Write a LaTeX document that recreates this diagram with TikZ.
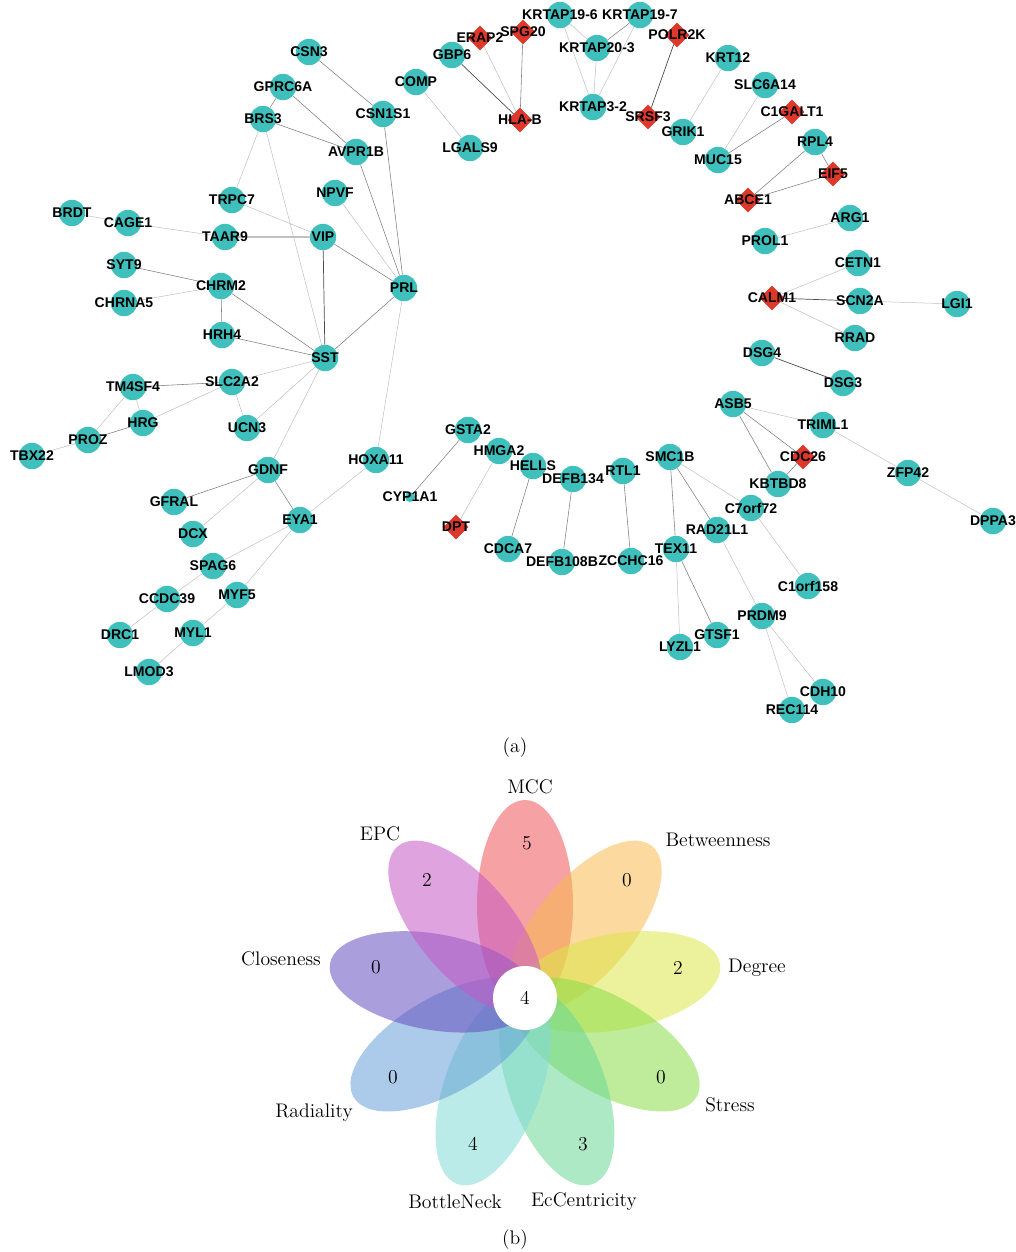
\documentclass[tikz,border=0pt]{standalone}
\usepackage{fontspec}
\newfontfamily\genefont{Liberation Sans}
\usepackage{tikz}
\usetikzlibrary{shapes.geometric,backgrounds}
\definecolor{geneteal}{RGB}{64,192,188}
\definecolor{seedred}{RGB}{222,56,43}
\definecolor{mccred}{RGB}{239,83,87}
\definecolor{betweenorange}{RGB}{249,185,81}
\definecolor{degreeyellow}{RGB}{221,231,73}
\definecolor{stressgreen}{RGB}{137,221,73}
\definecolor{eccgreen}{RGB}{107,215,151}
\definecolor{bottlecyan}{RGB}{131,219,213}
\definecolor{radialblue}{RGB}{103,159,215}
\definecolor{closepurple}{RGB}{101,79,191}
\definecolor{epcmagenta}{RGB}{197,89,197}
\tikzset{
  gene/.style={circle,fill=geneteal,inner sep=0pt,minimum size=6.6mm},
  seed/.style={diamond,fill=seedred,inner sep=0pt,minimum size=6.2mm},
  every label/.style={font=\genefont\bfseries\fontsize{10}{10}\selectfont,inner sep=0pt,text=black},
  linkstrong/.style={draw=black!70,line width=0.5pt},
  linkmid/.style={draw=black!50,line width=0.4pt},
  linkweak/.style={draw=black!25,line width=0.35pt},
  petal/.style={fill=#1,fill opacity=0.55},
  flowertext/.style={font=\fontsize{14}{16}\selectfont},
}

\begin{document}
\begin{tikzpicture}[x=0.25mm,y=-0.25mm]
    \useasboundingbox (0,0) rectangle (1016,1252);

    % (a) network - left cluster
    \node[gene,label=center:CSN3] (csn3) at (309,52) {};
    \node[gene,label=center:GPRC6A] (gprc6a) at (283,87) {};
    \node[gene,label=center:BRS3] (brs3) at (263,119) {};
    \node[gene,label=center:CSN1S1] (csn1s1) at (383,114) {};
    \node[gene,label=center:AVPR1B] (avpr1b) at (356,152) {};
    \node[gene,label=center:NPVF] (npvf) at (335,193) {};
    \node[gene,label=center:TRPC7] (trpc7) at (232,200) {};
    \node[gene,label=center:BRDT] (brdt) at (72,213) {};
    \node[gene,label=center:CAGE1] (cage1) at (128,223) {};
    \node[gene,label=center:TAAR9] (taar9) at (225,237) {};
    \node[gene,label=center:VIP] (vip) at (323,237) {};
    \node[gene,label=center:SYT9] (syt9) at (124,265) {};
    \node[gene,label=center:CHRM2] (chrm2) at (221,286) {};
    \node[gene,label=center:CHRNA5] (chrna5) at (124,303) {};
    \node[gene,label=center:HRH4] (hrh4) at (222,335) {};
    \node[gene,label=center:PRL] (prl) at (404,288) {};
    \node[gene,label=center:SST] (sst) at (325,358) {};
    \node[gene,label=center:TM4SF4] (tm4sf4) at (133,387) {};
    \node[gene,label=center:SLC2A2] (slc2a2) at (232,382) {};
    \node[gene,label=center:HRG] (hrg) at (143,423) {};
    \node[gene,label=center:PROZ] (proz) at (88,440) {};
    \node[gene,label=center:TBX22] (tbx22) at (32,456) {};
    \node[gene,label=center:UCN3] (ucn3) at (247,428) {};
    \node[gene,label=center:GDNF] (gdnf) at (268,470) {};
    \node[gene,label=center:HOXA11] (hoxa11) at (376,460) {};
    \node[gene,label=center:GFRAL] (gfral) at (174,502) {};
    \node[gene,label=center:DCX] (dcx) at (193,534) {};
    \node[gene,label=center:EYA1] (eya1) at (300,520) {};
    \node[gene,label=center:SPAG6] (spag6) at (213,566) {};
    \node[gene,label=center:CCDC39] (ccdc39) at (167,599) {};
    \node[gene,label=center:MYF5] (myf5) at (237,595) {};
    \node[gene,label=center:DRC1] (drc1) at (120,635) {};
    \node[gene,label=center:MYL1] (myl1) at (193,633) {};
    \node[gene,label=center:LMOD3] (lmod3) at (149,672) {};

    % top arc
    \node[gene,label=center:COMP] (comp) at (416,82) {};
    \node[gene,label=center:LGALS9] (lgals9) at (470,148) {};
    \node[gene,label=center:GBP6] (gbp6) at (452,55) {};
    \node[seed,label=center:ERAP2] (erap2) at (480,38) {};
    \node[seed,label=center:SPG20] (spg20) at (523,32) {};
    \node[seed,label=center:HLA-B] (hlab) at (520,120) {};
    \node[gene,label=center:KRTAP19-6] (krtap196) at (560,15) {};
    \node[gene,label=center:KRTAP19-7] (krtap197) at (640,15) {};
    \node[gene,label=center:KRTAP20-3] (krtap203) at (597,48) {};
    \node[gene,label=center:KRTAP3-2] (krtap32) at (593,107) {};
    \node[seed,label=center:POLR2K] (polr2k) at (677,35) {};
    \node[seed,label=center:SRSF3] (srsf3) at (648,117) {};
    \node[gene,label=center:GRIK1] (grik1) at (683,132) {};
    \node[gene,label=center:KRT12] (krt12) at (728,58) {};
    \node[gene,label=center:SLC6A14] (slc6a14) at (765,85) {};
    \node[seed,label=center:C1GALT1] (c1galt1) at (792,112) {};
    \node[gene,label=center:MUC15] (muc15) at (718,160) {};
    \node[gene,label=center:RPL4] (rpl4) at (815,142) {};
    \node[seed,label=center:EIF5] (eif5) at (833,174) {};
    \node[seed,label=center:ABCE1] (abce1) at (748,200) {};
    \node[gene,label=center:ARG1] (arg1) at (850,218) {};
    \node[gene,label=center:PROL1] (prol1) at (765,241) {};

    % right side
    \node[gene,label=center:CETN1] (cetn1) at (858,263) {};
    \node[seed,label=center:CALM1] (calm1) at (772,298) {};
    \node[gene,label=center:SCN2A] (scn2a) at (860,301) {};
    \node[gene,label=center:LGI1] (lgi1) at (957,304) {};
    \node[gene,label=center:RRAD] (rrad) at (855,338) {};
    \node[gene,label=center:DSG4] (dsg4) at (762,353) {};
    \node[gene,label=center:DSG3] (dsg3) at (843,383) {};
    \node[gene,label=center:ASB5] (asb5) at (733,404) {};
    \node[gene,label=center:TRIML1] (triml1) at (823,425) {};
    \node[seed,label=center:CDC26] (cdc26) at (803,457) {};
    \node[gene,label=center:ZFP42] (zfp42) at (908,473) {};
    \node[gene,label=center:KBTBD8] (kbtbd8) at (778,484) {};
    \node[gene,label=center:DPPA3] (dppa3) at (993,521) {};
    \node[gene,label=center:SMC1B] (smc1b) at (670,457) {};
    \node[gene,label=center:RTL1] (rtl1) at (623,471) {};
    \node[gene,label=center:C7orf72] (c7orf72) at (751,508) {};
    \node[gene,label=center:RAD21L1] (rad21l1) at (717,530) {};
    \node[gene,label=center:TEX11] (tex11) at (676,549) {};
    \node[gene,label=center:ZCCHC16] (zcchc16) at (631,561) {};
    \node[gene,label=center:C1orf158] (c1orf158) at (808,586) {};
    \node[gene,label=center:PRDM9] (prdm9) at (762,616) {};
    \node[gene,label=center:GTSF1] (gtsf1) at (717,635) {};
    \node[gene,label=center:LYZL1] (lyzl1) at (680,647) {};
    \node[gene,label=center:CDH10] (cdh10) at (823,692) {};
    \node[gene,label=center:REC114] (rec114) at (792,710) {};

    % bottom middle
    \node[gene,label=center:GSTA2] (gsta2) at (468,430) {};
    \node[gene,label=center:HMGA2] (hmga2) at (499,451) {};
    \node[gene,label=center:HELLS] (hells) at (533,466) {};
    \node[gene,label=center:DEFB134] (defb134) at (573,479) {};
    \node[gene,minimum size=2.5mm,label=center:CYP1A1] (cyp1a1) at (410,497) {};
    \node[seed,label=center:DPT] (dpt) at (456,527) {};
    \node[gene,label=center:CDCA7] (cdca7) at (508,549) {};
    \node[gene,label=center:DEFB108B] (defb108b) at (562,562) {};

    % interactions
    \begin{scope}[on background layer]
        \draw[linkstrong] (taar9) -- (vip) (vip) -- (sst) (gbp6) -- (hlab) (polr2k) -- (srsf3)
            (calm1) -- (scn2a) (dsg4) -- (dsg3);
        \draw[linkmid] (csn3) -- (csn1s1) (gprc6a) -- (brs3) (gprc6a) -- (avpr1b) (brs3) -- (avpr1b)
            (csn1s1) -- (prl) (avpr1b) -- (prl) (vip) -- (prl) (syt9) -- (chrm2) (chrm2) -- (hrh4)
            (chrm2) -- (sst) (hrh4) -- (sst) (sst) -- (prl) (tm4sf4) -- (slc2a2) (hrg) -- (proz)
            (gdnf) -- (gfral) (gdnf) -- (eya1) (spg20) -- (hlab) (krtap197) -- (krtap203)
            (c1galt1) -- (muc15) (rpl4) -- (eif5) (rpl4) -- (abce1) (eif5) -- (abce1)
            (asb5) -- (cdc26) (asb5) -- (kbtbd8) (cdc26) -- (kbtbd8) (smc1b) -- (tex11)
            (smc1b) -- (rad21l1) (rtl1) -- (zcchc16) (tex11) -- (gtsf1) (gsta2) -- (cyp1a1)
            (hells) -- (cdca7) (defb134) -- (defb108b);
        \draw[linkweak] (brs3) -- (trpc7) (brs3) -- (sst) (npvf) -- (prl) (trpc7) -- (vip)
            (brdt) -- (cage1) (cage1) -- (taar9) (chrna5) -- (chrm2) (sst) -- (slc2a2) (sst) -- (ucn3)
            (tm4sf4) -- (hrg) (tm4sf4) -- (proz) (proz) -- (tbx22) (slc2a2) -- (hrg) (slc2a2) -- (ucn3)
            (sst) -- (gdnf) (gdnf) -- (dcx) (eya1) -- (hoxa11) (eya1) -- (spag6) (eya1) -- (myf5)
            (spag6) -- (ccdc39) (ccdc39) -- (drc1) (myf5) -- (myl1) (myl1) -- (lmod3) (prl) -- (hoxa11)
            (comp) -- (lgals9) (erap2) -- (hlab) (krtap196) -- (krtap203) (krtap196) -- (krtap32)
            (krtap203) -- (krtap32) (krtap197) -- (krtap32) (krt12) -- (grik1) (slc6a14) -- (muc15)
            (arg1) -- (prol1) (calm1) -- (cetn1) (calm1) -- (rrad) (scn2a) -- (lgi1) (asb5) -- (triml1)
            (triml1) -- (zfp42) (zfp42) -- (dppa3) (smc1b) -- (c7orf72) (c7orf72) -- (c1orf158)
            (rad21l1) -- (prdm9) (tex11) -- (lyzl1) (prdm9) -- (cdh10) (prdm9) -- (rec114) (hmga2) -- (dpt);
    \end{scope}

    \node[flowertext] (capa) at (515,748) {(a)};

    % (b) flower of ranking methods
    \begin{scope}[shift={(525,998)},y=0.25mm]
        \fill[petal=mccred,rotate=90] (93,0) ellipse (105 and 48);
        \fill[petal=betweenorange,rotate=50] (93,0) ellipse (105 and 48);
        \fill[petal=degreeyellow,rotate=10] (93,0) ellipse (105 and 48);
        \fill[petal=stressgreen,rotate=-30] (93,0) ellipse (105 and 48);
        \fill[petal=eccgreen,rotate=-70] (93,0) ellipse (105 and 48);
        \fill[petal=bottlecyan,rotate=-110] (93,0) ellipse (105 and 48);
        \fill[petal=radialblue,rotate=-150] (93,0) ellipse (105 and 48);
        \fill[petal=closepurple,rotate=170] (93,0) ellipse (105 and 48);
        \fill[petal=epcmagenta,rotate=130] (93,0) ellipse (105 and 48);
        \fill[white] (0,0) circle (32);
    \end{scope}
    \node[flowertext] (core) at (525,998) {4};
    \node[flowertext] (mccnum) at (527,843) {5};
    \node[flowertext] (betweennum) at (627,880) {0};
    \node[flowertext] (degreenum) at (678,968) {2};
    \node[flowertext] (stressnum) at (661,1077) {0};
    \node[flowertext] (eccnum) at (583,1144) {3};
    \node[flowertext] (bottlenum) at (473,1144) {4};
    \node[flowertext] (radialnum) at (393,1077) {0};
    \node[flowertext] (closenum) at (376,967) {0};
    \node[flowertext] (epcnum) at (427,880) {2};
    \node[flowertext] (mcc) at (530,787) {MCC};
    \node[flowertext] (between) at (718,840) {Betweenness};
    \node[flowertext] (degree) at (757,968) {Degree};
    \node[flowertext] (stress) at (730,1105) {Stress};
    \node[flowertext] (ecc) at (584,1202) {EcCentricity};
    \node[flowertext] (bottle) at (455,1202) {BottleNeck};
    \node[flowertext] (radial) at (314,1113) {Radiality};
    \node[flowertext] (close) at (281,959) {Closeness};
    \node[flowertext] (epc) at (380,834) {EPC};
    \node[flowertext] (capb) at (515,1240) {(b)};
\end{tikzpicture}
\end{document}
